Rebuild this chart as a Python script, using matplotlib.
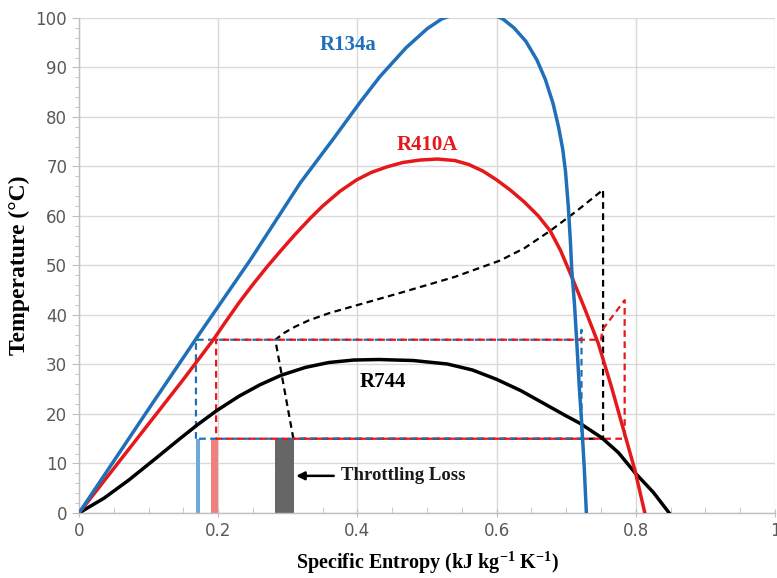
import matplotlib
matplotlib.use("Agg")
import matplotlib.pyplot as plt
from matplotlib.ticker import MultipleLocator

# ---------------- data ----------------
r134a_s = [0, 0.05, 0.1, 0.174, 0.246, 0.318, 0.365, 0.404, 0.432, 0.47, 0.5, 0.521,
           0.545, 0.565, 0.59, 0.609, 0.625, 0.642, 0.658, 0.67, 0.681, 0.689, 0.695,
           0.699, 0.703, 0.706, 0.708, 0.712, 0.715, 0.719, 0.722, 0.726, 0.729]
r134a_T = [0, 10.5, 21, 36.4, 51.1, 66.7, 75.5, 83, 88.1, 94, 97.8, 99.8,
           101, 101.3, 101, 99.8, 98, 95.3, 91.5, 87.6, 82.8, 78, 73.5,
           69, 62, 55, 49.1, 42, 35, 25, 18.8, 9, 0]

r410a_s = [0, 0.05, 0.1, 0.15, 0.193, 0.21, 0.23, 0.25, 0.27, 0.29, 0.31, 0.332,
           0.35, 0.375, 0.399, 0.42, 0.442, 0.465, 0.49, 0.515, 0.54, 0.56, 0.58,
           0.6, 0.62, 0.64, 0.66, 0.677, 0.692, 0.708, 0.726, 0.746, 0.765, 0.785,
           0.799, 0.813]
r410a_T = [0, 9, 18, 27, 35, 38.5, 42.5, 46.2, 49.7, 53, 56.2, 59.5,
           62, 65, 67.3, 68.8, 69.9, 70.8, 71.3, 71.5, 71.2, 70.4, 69.1,
           67.3, 65.2, 62.8, 60, 57, 53, 47.7, 41.5, 34.3, 25.5, 15.5,
           8.5, 0]

r744_s = [0, 0.036, 0.072, 0.11, 0.144, 0.17, 0.198, 0.23, 0.26, 0.29, 0.325, 0.359,
          0.395, 0.431, 0.48, 0.529, 0.565, 0.6, 0.635, 0.672, 0.7, 0.72, 0.751,
          0.775, 0.799, 0.825, 0.848]
r744_T = [0, 3, 6.7, 11, 14.9, 17.8, 20.7, 23.6, 25.9, 27.8, 29.4, 30.4,
          30.9, 31, 30.8, 30.1, 28.9, 27, 24.7, 21.8, 19.6, 18.1, 15.2,
          12.2, 8.1, 4.2, 0]

# refrigeration cycles (dashed)
cyc134_s = [0.168, 0.168, 0.72, 0.722, 0.722, 0.168]
cyc134_T = [15, 35, 35, 37, 15, 15]
cyc410_s = [0.197, 0.197, 0.75, 0.752, 0.784, 0.784, 0.197]
cyc410_T = [15, 35, 35, 37, 43, 15, 15]
cyc744_s = [0.308, 0.282, 0.295, 0.31, 0.33, 0.36, 0.40, 0.46, 0.54, 0.605, 0.64,
            0.677, 0.715, 0.753, 0.753, 0.308]
cyc744_T = [15, 35, 36.4, 37.6, 38.9, 40.4, 42, 44.4, 47.7, 51, 53.5,
            57, 61, 65.3, 15, 15]

# throttling-loss bars
bar_left = [0.168, 0.19, 0.282]
bar_right = [0.174, 0.20, 0.309]
bar_top = [15, 15, 15]

# ---------------- style ----------------
c_blue = "#1f70b8"
c_red = "#e5191c"
c_black = "#000000"
bar_colors = ["#6fa8dc", "#f08080", "#666666"]
serif = "Liberation Serif"

plt.rcParams["mathtext.fontset"] = "custom"
plt.rcParams["mathtext.rm"] = "Liberation Serif:bold"
plt.rcParams["mathtext.it"] = "Liberation Serif:bold"
plt.rcParams["mathtext.bf"] = "Liberation Serif:bold"

fig = plt.figure(figsize=(7.77, 5.78), dpi=100)
ax = fig.add_axes([0.1017, 0.1125, 0.8957, 0.8564])

ax.set_xlim(0, 1)
ax.set_ylim(0, 100)

# grid
ax.xaxis.set_major_locator(MultipleLocator(0.2))
ax.xaxis.set_minor_locator(MultipleLocator(0.05))
ax.yaxis.set_major_locator(MultipleLocator(10))
ax.yaxis.set_minor_locator(MultipleLocator(2))
ax.grid(True, which="major", color="#d9d9d9", linewidth=1.0, zorder=0)
ax.set_axisbelow(True)

for side in ["top", "right"]:
    ax.spines[side].set_visible(False)
for side in ["left", "bottom"]:
    ax.spines[side].set_color("#bfbfbf")
    ax.spines[side].set_linewidth(1.0)

ax.tick_params(axis="both", which="both", colors="#bfbfbf", labelcolor="#595959",
               labelsize=12)
ax.tick_params(axis="x", which="major", direction="inout", length=6)
ax.tick_params(axis="x", which="minor", direction="in", length=4)
ax.tick_params(axis="y", which="major", direction="out", length=5)
ax.tick_params(axis="y", which="minor", direction="out", length=3)
ax.set_xticks([0, 0.2, 0.4, 0.6, 0.8, 1.0])
ax.set_xticklabels(["0", "0.2", "0.4", "0.6", "0.8", "1"])

# bars
for l, r, t, c in zip(bar_left, bar_right, bar_top, bar_colors):
    ax.bar(l, t, width=r - l, align="edge", color=c, edgecolor="none", zorder=2)

# dashed cycles
dash = (0, (3.0, 2.0))
ax.plot(cyc744_s, cyc744_T, color=c_black, lw=1.6, linestyle=dash, zorder=3)
ax.plot(cyc134_s, cyc134_T, color=c_blue, lw=1.6, linestyle=dash, zorder=3)
ax.plot(cyc410_s, cyc410_T, color=c_red, lw=1.6, linestyle=(2.5, (3.0, 2.0)), zorder=3)

# saturation domes
ax.plot(r744_s, r744_T, color=c_black, lw=2.5, zorder=4, solid_joinstyle="round")
ax.plot(r410a_s, r410a_T, color=c_red, lw=2.5, zorder=4, solid_joinstyle="round")
ax.plot(r134a_s, r134a_T, color=c_blue, lw=2.5, zorder=4, solid_joinstyle="round")

# labels on curves
ax.text(0.387, 94.5, "R134a", color=c_blue, fontsize=15, fontweight="bold",
        family=serif, ha="center", va="center")
ax.text(0.50, 74.3, "R410A", color=c_red, fontsize=15, fontweight="bold",
        family=serif, ha="center", va="center")
ax.text(0.437, 26.5, "R744", color=c_black, fontsize=15, fontweight="bold",
        family=serif, ha="center", va="center")

ax.annotate("", xy=(0.312, 7.5), xytext=(0.366, 7.5),
            arrowprops=dict(arrowstyle="-|>", color="black", lw=1.8,
                            mutation_scale=12, shrinkA=0, shrinkB=0))
ax.text(0.377, 7.5, "Throttling Loss", fontsize=13.5, fontweight="bold",
        family=serif, ha="left", va="center", color="#1a1a1a")

ax.set_ylabel("Temperature (°C)", fontsize=17, fontweight="bold", family=serif,
              labelpad=4)
ax.set_xlabel(r"Specific Entropy (kJ kg$^{-1}$ K$^{-1}$)", fontsize=14.5,
              fontweight="bold", family=serif, labelpad=7)

fig.savefig("out.png", dpi=100)
